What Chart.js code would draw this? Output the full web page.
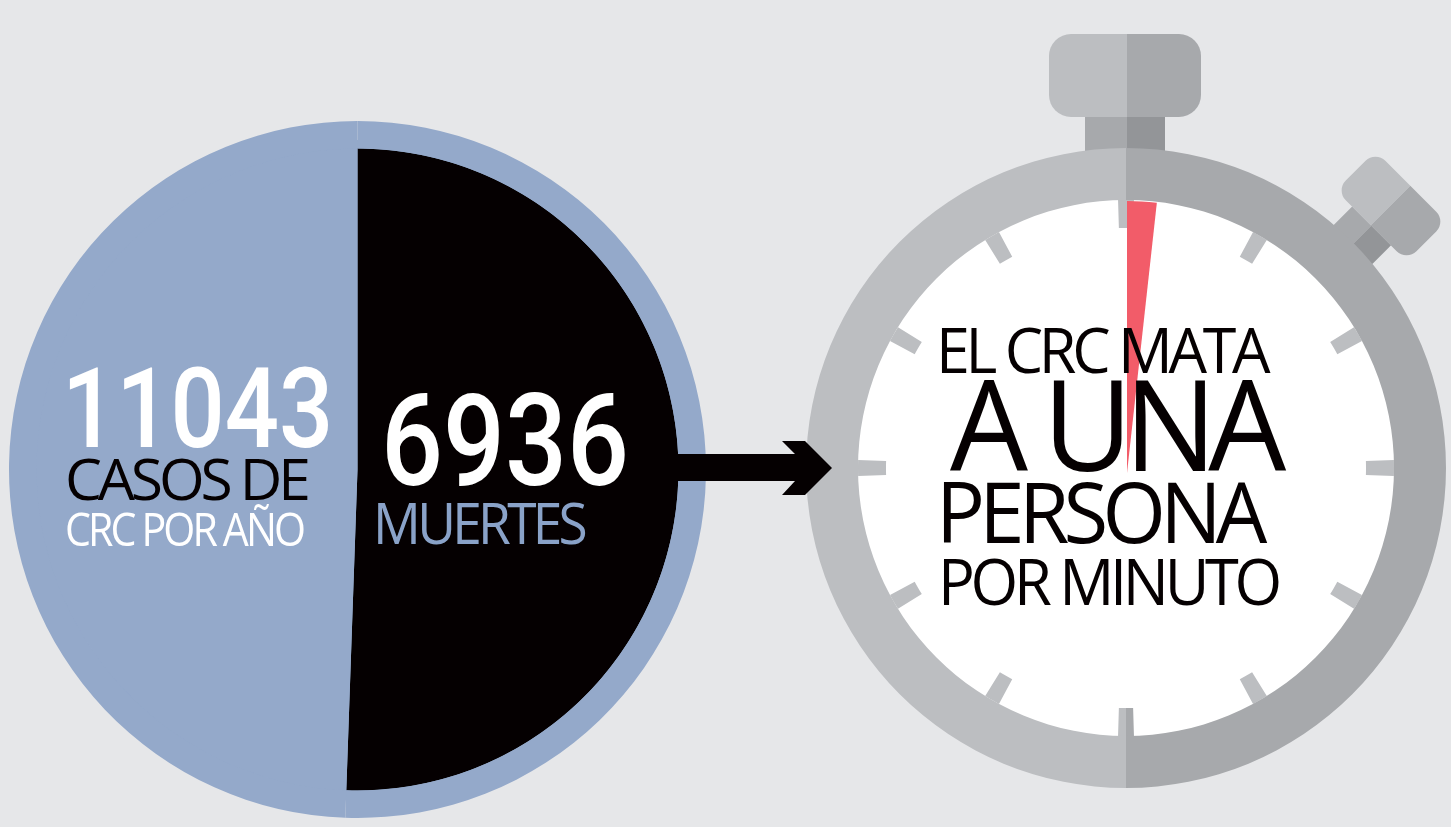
<!DOCTYPE html>
<html lang="es">
<head>
<meta charset="utf-8">
<title>CRC por año</title>
<script src="https://cdn.jsdelivr.net/npm/chart.js@4"></script>
<style>
    html, body { margin: 0; height: 100%; background: #e6e7e9; overflow: hidden; }
    canvas, .part, .t { position: absolute; }

    #casesChart { left: 9px; top: 121px; }
    #watchChart { left: 806px; top: 148px; }
    #minuteChart { left: 855px; top: 201px; }

    #disc { left: 27px; top: 140px; width: 660px; height: 660px; border-radius: 50%; background: #94a9ca; }
    #face { left: 846px; top: 188px; width: 560px; height: 560px; border-radius: 50%; background: #fff; }
    #crown { left: 1049px; top: 34px; width: 152px; height: 83px; border-radius: 22px;
             background: linear-gradient(90deg, #bcbec1 78px, #a7a9ac 78px); }
    #neck { left: 1085px; top: 117px; width: 80px; height: 36px;
            background: linear-gradient(90deg, #a7a9ac 42px, #939598 42px); }
    #buttonHead { left: 1341px; top: 178px; width: 100px; height: 56px; border-radius: 14px; transform: rotate(45deg);
                  background: linear-gradient(90deg, #bcbec1 50%, #a7a9ac 50%); }
    #buttonStem { left: 1329.5px; top: 220px; width: 55px; height: 40px; transform: rotate(45deg);
                  background: linear-gradient(90deg, #a7a9ac 50%, #939598 50%); }
    #arrow { left: 670px; top: 441px; width: 165px; height: 54px; background: #050001;
             clip-path: polygon(0 13px, 125px 13px, 112px 0, 135px 0, 162px 27px, 135px 54px, 112px 54px, 125px 40px, 0 40px); }

    .t { white-space: nowrap; line-height: 1; transform-origin: 0 0; font-family: "Open Sans", sans-serif;
         color: #050001; letter-spacing: -0.07em; }
    .num { font-family: Roboto, sans-serif; font-weight: 500; color: #fff; letter-spacing: 0; }
    #casesValue { left: 62px; top: 353px; font-size: 112px; --w: 271; }
    #casesLine1 { left: 65px; top: 450px; font-size: 57px; --w: 242; }
    #casesLine2 { left: 65px; top: 505px; font-size: 46px; --w: 238; color: #fff; }
    #deathsValue { left: 381px; top: 377px; font-size: 128px; --w: 248; }
    #deathsLine { left: 373px; top: 494px; font-size: 57px; --w: 211; color: #8aa2c8; }
    #msg1 { left: 936px; top: 317px; font-size: 63px; --w: 330; }
    #msg2 { left: 950px; top: 359px; font-size: 126px; --w: 328; font-weight: 500; }
    #msg3 { left: 936px; top: 469px; font-size: 84px; --w: 326; font-weight: 500; }
    #msg4 { left: 938px; top: 549px; font-size: 64px; --w: 340; }
</style>
</head>
<body>
<div class="part" id="crown"></div>
<div class="part" id="neck"></div>
<div class="part" id="buttonStem"></div>
<div class="part" id="buttonHead"></div>
<div class="part" id="face"></div>
<div class="part" id="disc"></div>

<canvas id="casesChart" width="697" height="697"></canvas>
<canvas id="watchChart" width="640" height="640"></canvas>
<canvas id="minuteChart" width="544" height="544"></canvas>

<div class="part" id="arrow"></div>

<div class="t num" id="casesValue"></div>
<div class="t" id="casesLine1"></div>
<div class="t" id="casesLine2"></div>
<div class="t num" id="deathsValue"></div>
<div class="t" id="deathsLine"></div>
<div class="t" id="msg1"></div>
<div class="t" id="msg2"></div>
<div class="t" id="msg3"></div>
<div class="t" id="msg4"></div>

<script>
// numbers and wording as printed
const casesValue = '11043';
const casesCaption = ['CASOS DE', 'CRC POR AÑO'];
const deathsValue = '6936';
const deathsCaption = 'MUERTES';
const message = ['EL CRC MATA', 'A UNA', 'PERSONA', 'POR MINUTO'];

// angles, in degrees
const deathsSlice = [182, 178];
const watchHalves = [180, 180];
const watchTicks = [3.4, 26.6, 3.4, 26.6, 3.4, 26.6, 3.4, 26.6, 3.4, 26.6, 3.4, 26.6,
                    1.7, 1.7, 26.6, 3.4, 26.6, 3.4, 26.6, 3.4, 26.6, 3.4, 26.6, 3.4, 26.6];
const minuteSlice = [6.3, 353.7];

const blue = '#94a9ca';
const black = '#050001';
const lightGrey = '#bcbec1';
const darkGrey = '#a7a9ac';
const red = '#f25c69';

Chart.defaults.animation = false;
Chart.defaults.responsive = false;
Chart.defaults.plugins.legend.display = false;
Chart.defaults.plugins.tooltip.enabled = false;
Chart.defaults.events = [];

new Chart(document.getElementById('casesChart'), {
    type: 'pie',
    data: {
        datasets: [
            { data: deathsSlice, backgroundColor: [blue, blue], borderWidth: 0, weight: 27.5 },
            { data: deathsSlice, backgroundColor: [black, blue], borderWidth: 0, weight: 321 }
        ]
    }
});

const tickColors = watchTicks.map((v, i) => {
    if (i === 12) return darkGrey;
    if (i === 13) return lightGrey;
    const afterBottom = i > 13;
    return (i % 2 === (afterBottom ? 1 : 0)) ? lightGrey : 'transparent';
});

new Chart(document.getElementById('watchChart'), {
    type: 'doughnut',
    data: {
        datasets: [
            { data: watchHalves, backgroundColor: [darkGrey, lightGrey], borderWidth: 0, weight: 52 },
            { data: watchTicks, backgroundColor: tickColors, borderWidth: 0, weight: 28, rotation: -1.7 }
        ]
    },
    options: { cutout: '75%' }
});

new Chart(document.getElementById('minuteChart'), {
    type: 'pie',
    data: {
        datasets: [{ data: minuteSlice, backgroundColor: [red, 'transparent'], borderWidth: 0 }]
    }
});

document.getElementById('casesValue').textContent = casesValue;
document.getElementById('casesLine1').textContent = casesCaption[0];
document.getElementById('casesLine2').textContent = casesCaption[1];
document.getElementById('deathsValue').textContent = deathsValue;
document.getElementById('deathsLine').textContent = deathsCaption;
message.forEach((line, i) => {
    document.getElementById('msg' + (i + 1)).textContent = line;
});

// squeeze each line to the width it has in the original
document.querySelectorAll('.t').forEach(el => {
    const w = parseFloat(getComputedStyle(el).getPropertyValue('--w'));
    el.style.transform = `scaleX(${w / el.offsetWidth})`;
});
</script>
</body>
</html>
